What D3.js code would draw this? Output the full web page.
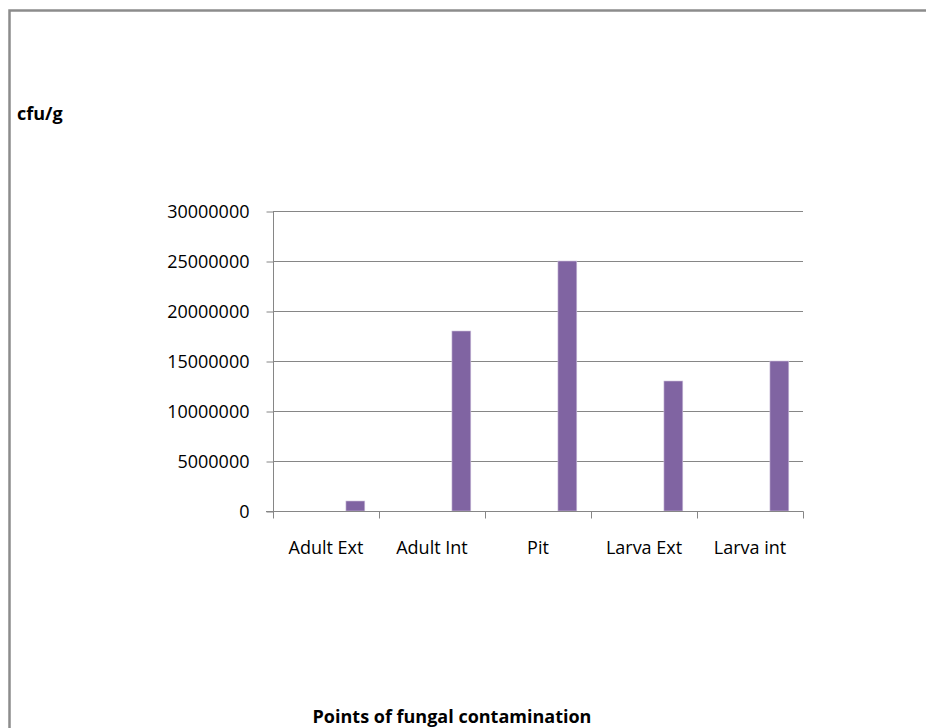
<!DOCTYPE html>
<html><head><meta charset="utf-8">
<script src="https://cdn.jsdelivr.net/npm/d3@7"></script>
<style>html,body{margin:0;padding:0;background:#fff;}svg{display:block;}</style>
</head><body>
<script>
const categories = ["Adult Ext", "Adult Int", "Pit", "Larva Ext", "Larva int"];
const values = [1000000, 18000000, 25000000, 13000000, 15000000];
const yTicks = [0, 5000000, 10000000, 15000000, 20000000, 25000000, 30000000];
const yTitle = "cfu/g";
const xTitle = "Points of fungal contamination";

(function () {
const W = 926, H = 728;
const svg = d3.select("body").append("svg").attr("width", W).attr("height", H);
const font = "'Open Sans', sans-serif";

// outer border
svg.append("path").attr("d", `M9.5,${H}V10.5H${W}`).attr("fill", "none")
  .attr("stroke", "#8c8c8c").attr("stroke-width", 2.5);

const pL = 273, pR = 803, pT = 211, pB = 511;
const x = d3.scaleBand().domain(categories).range([pL, pR]);
const y = d3.scaleLinear().domain([0, 30000000]).range([pB, pT]);

// gridlines
svg.append("g").selectAll("line").data(yTicks.slice(1)).join("line")
  .attr("x1", pL).attr("x2", pR).attr("y1", d => Math.round(y(d)) + 0.5).attr("y2", d => Math.round(y(d)) + 0.5)
  .attr("stroke", "#868686").attr("stroke-width", 1);

// bars
const bw = x.bandwidth();
svg.append("g").selectAll("rect").data(values).join("rect")
  .attr("x", (d, i) => x(categories[i]) + bw * 0.688)
  .attr("width", bw * 0.178)
  .attr("y", d => y(d))
  .attr("height", d => y(0) - y(d))
  .attr("fill", "#8064A2").attr("stroke", "#cfc3dd").attr("stroke-width", 0.6);

// y axis
const ya = d3.axisLeft(y).tickValues(yTicks).tickFormat(d3.format("d")).tickSize(7).tickPadding(17);
const gy = svg.append("g").attr("transform", `translate(${pL + 0.5},0.5)`).call(ya);
gy.select(".domain").attr("stroke", "#868686").attr("d", `M0,${pT}V${pB}`);
gy.selectAll(".tick line").attr("stroke", "#868686");
gy.selectAll(".tick text").attr("font-family", font).attr("font-size", 18).attr("fill", "#000");

// x axis
const xa = d3.axisBottom(x).tickSize(0).tickPadding(30);
const gx = svg.append("g").attr("transform", `translate(0,${pB + 0.5})`).call(xa);
gx.select(".domain").attr("stroke", "#868686").attr("d", `M${pL - 7},0H${pR + 0.5}`);
gx.selectAll(".tick text").attr("font-family", font).attr("font-size", 18).attr("fill", "#000");
const bounds = [...categories.map(c => x(c)), pR];
gx.selectAll(".cat").data(bounds).join("line").attr("class", "cat")
  .attr("x1", d => Math.round(d) + 0.5).attr("x2", d => Math.round(d) + 0.5).attr("y1", 0).attr("y2", 7)
  .attr("stroke", "#868686");

svg.append("text").attr("x", 17).attr("y", 120).attr("font-family", font).attr("font-size", 18)
  .attr("font-weight", "bold").text(yTitle);
svg.append("text").attr("x", 452).attr("y", 723).attr("text-anchor", "middle").attr("font-family", font)
  .attr("font-size", 18).attr("font-weight", "bold").text(xTitle);
})();
</script>
</body></html>
